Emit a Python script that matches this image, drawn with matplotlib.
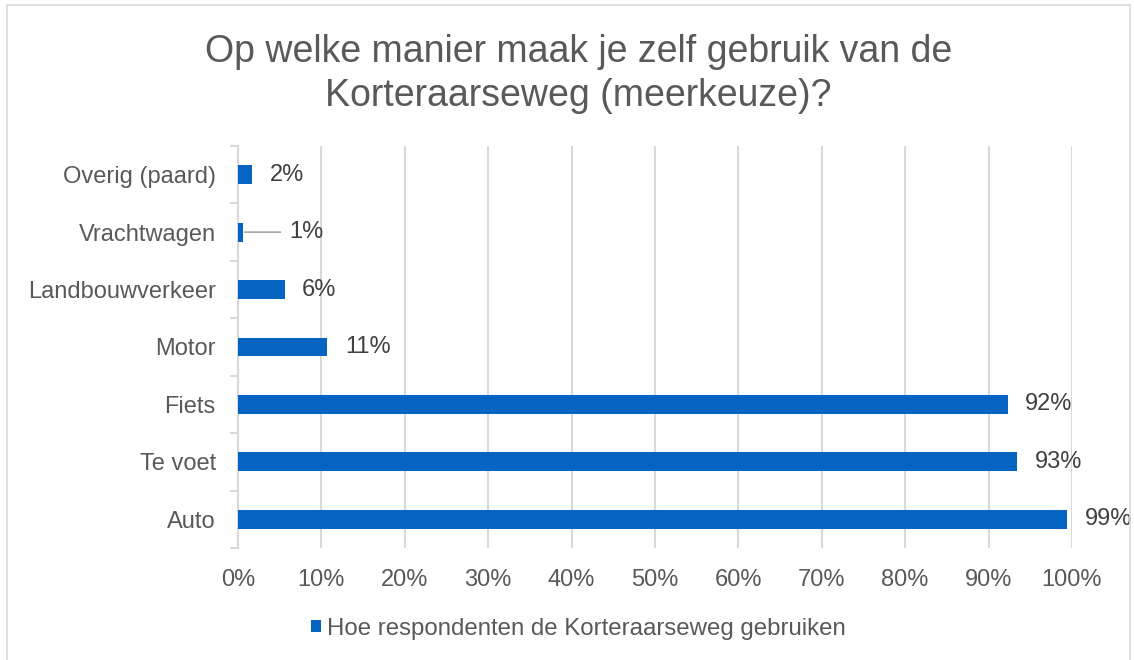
import matplotlib.pyplot as plt
from matplotlib.patches import Rectangle

categories = ["Auto", "Te voet", "Fiets", "Motor", "Landbouwverkeer", "Vrachtwagen", "Overig (paard)"]
values = [99.4, 93.4, 92.3, 10.7, 5.6, 0.6, 1.7]
xticks = [0, 10, 20, 30, 40, 50, 60, 70, 80, 90, 100]
series_name = "Hoe respondenten de Korteraarseweg gebruiken"
title = "Op welke manier maak je zelf gebruik van de\nKorteraarseweg (meerkeuze)?"

BLUE = "#0563C1"
GRID = "#D9D9D9"
TXT = "#595959"
LBL = "#404040"

plt.rcParams['font.family'] = ['Liberation Sans', 'DejaVu Sans']

fig = plt.figure(figsize=(11.34, 6.6), dpi=100)
ax = fig.add_axes([0.2099, 0.1697, 0.7354, 0.6091])

y = list(range(len(categories)))
bars = ax.barh(y, values, height=0.33, color=BLUE, label=series_name, zorder=3)

ax.set_xlim(0, 100)
ax.set_ylim(-0.5, len(categories) - 0.5)
ax.set_xticks(xticks)
ax.set_xticklabels([f"{t}%" for t in xticks], fontsize=17, color=TXT)
ax.set_yticks(y)
ax.set_yticklabels(categories, fontsize=17, color=TXT)
ax.set_yticks([i + 0.5 for i in range(-1, len(categories))], minor=True)
ax.tick_params(axis='y', which='major', length=0, pad=16)
ax.tick_params(axis='y', which='minor', length=6, color=GRID, width=1.5, direction='out')
ax.tick_params(axis='x', length=0, pad=15)
ax.grid(axis='x', color=GRID, linewidth=1.5, zorder=0)

for s in ['top', 'right', 'bottom']:
    ax.spines[s].set_visible(False)
ax.spines['left'].set_color(GRID)
ax.spines['left'].set_linewidth(1.5)

for yi, v in zip(y, values):
    txt = f"{round(v)}%"
    if categories[yi] == "Vrachtwagen":
        ax.annotate(txt, xy=(v + 0.2, yi), xytext=(v + 5.5, yi), fontsize=17, color=LBL,
                    va='center', ha='left',
                    arrowprops=dict(arrowstyle='-', color='#A6A6A6', lw=1.2, shrinkA=4, shrinkB=0))
    else:
        ax.text(v + 2.1, yi, txt, fontsize=17, color=LBL, va='center', ha='left')

fig.text(0.51, 1 - 74 / 660, title, ha='center', va='center', fontsize=27, color=TXT,
         linespacing=1.25)

ax.legend(handles=[bars], loc='center', bbox_to_anchor=(0.51, 1 - 629 / 660),
          bbox_transform=fig.transFigure, frameon=False, fontsize=17.3,
          handlelength=0.4, handleheight=0.4, handletextpad=0.25, labelcolor=TXT)

fig.patches.append(Rectangle((7 / 1134, -0.01), 1123 / 1134, 1 - 5 / 660 + 0.01,
                             transform=fig.transFigure, fill=False, edgecolor=GRID,
                             linewidth=1.2))

fig.savefig("out.png", dpi=100)
